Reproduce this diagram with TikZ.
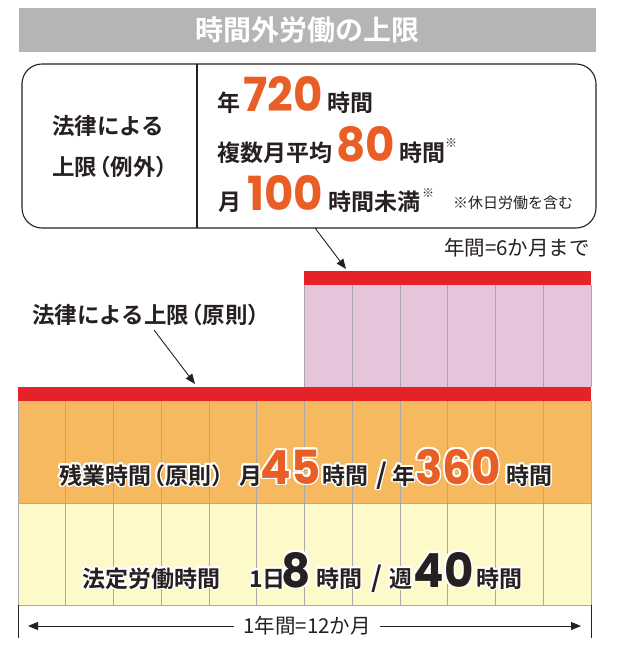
\documentclass[tikz,border=0pt]{standalone}
\usepackage{fontspec}
\setmainfont{Noto Sans CJK JP}[BoldFont={Noto Sans CJK JP Bold}]
\newfontfamily\numfont{Poppins}[FakeStretch=0.96]
\usepackage{contour}
\contourlength{1.6pt}
\usetikzlibrary{arrows.meta}
\definecolor{titlegray}{RGB}{181,181,181}
\definecolor{ink}{RGB}{38,32,32}
\definecolor{numorange}{RGB}{233,94,37}
\definecolor{barred}{RGB}{229,33,41}
\definecolor{pinkfill}{RGB}{229,196,220}
\definecolor{orangefill}{RGB}{247,185,95}
\definecolor{yellowfill}{RGB}{254,249,200}
\definecolor{gridgray}{RGB}{170,168,168}
\newcommand\lp{\makebox[0.6em][r]{（}}
\newcommand\rp{\makebox[0.6em][l]{）}}
\newcommand\jpS[1]{{\fontsize{23}{23}\selectfont\bfseries #1}}
\newcommand\jpL[1]{{\fontsize{22.5}{22.5}\selectfont\bfseries #1}}
\newcommand\numtxt[1]{{\numfont\bfseries\fontsize{47}{47}\selectfont #1}}
\newcommand\kome{{\fontsize{12}{12}\selectfont ※}}
\newcommand\halo[2]{\textcolor{#1}{\contour{white}{#2}}}
\tikzset{
  conn/.style={draw=ink, line width=0.9pt, -{Triangle[length=10pt,width=8pt]}},
  txt/.style={inner sep=0pt, text=ink},
  piece/.style={inner sep=0pt, text=ink, anchor=base west},
  numc/.style={inner sep=0pt, anchor=base},
  grid line/.style={draw=gridgray, line width=0.9pt},
}
\begin{document}
\begin{tikzpicture}[x=1pt, y=-1pt]
\useasboundingbox (0,0) rectangle (620,652);
% title
\node[fill=titlegray, minimum width=577pt, minimum height=44pt, inner sep=0pt, text=white] (title) at (307.5,30) {\fontsize{28}{28}\selectfont\bfseries 時間外労働の上限};
% exception box
\node[draw=ink, rounded corners=20pt, line width=1.1pt, minimum width=574pt, minimum height=164pt, inner sep=0pt] (box) at (309,146) {};
\draw[ink, line width=1.1pt] (197,64) -- (197,228);
\node[txt, anchor=west] (l1) at (52,126) {\jpL{法律による}};
\node[txt, anchor=west] (l2) at (52,167) {\jpL{上限\lp 例外\rp}};
% line 1
\node[piece] (r1a) at (217,112) {\jpS{年}};
\node[numc, text=numorange] (r1b) at (283,112) {\numtxt{720}};
\node[piece] (r1c) at (327,112) {\jpS{時間}};
% line 2
\node[piece] (r2a) at (217,162) {\jpS{複数月平均}};
\node[numc, text=numorange] (r2b) at (366,162) {\numtxt{80}};
\node[piece] (r2c) at (399,162) {\jpS{時間}};
\node[piece] (r2d) at (445,148) {\kome};
% line 3
\node[piece] (r3a) at (218,211) {\jpS{月}};
\node[numc, text=numorange] (r3b) at (285,211) {\numtxt{100}};
\node[piece] (r3c) at (328,211) {\jpS{時間未満}};
\node[piece] (r3d) at (422,197) {\kome};
\node[piece] (note) at (453,208) {\fontsize{15}{15}\selectfont ※休日労働を含む};
% bars
\fill[barred] (304,271) rectangle (591,285);
\fill[pinkfill] (304,285) rectangle (591,387);
\fill[barred] (18,387) rectangle (591,401);
\fill[orangefill] (18,401) rectangle (591,503);
\fill[yellowfill] (18,503) rectangle (591,605);
\foreach \k in {0,...,12} \draw[grid line] ({18+\k*47.75},401) -- ({18+\k*47.75},605);
\foreach \k in {6,...,12} \draw[grid line] ({18+\k*47.75},285) -- ({18+\k*47.75},387);
\draw[grid line] (18,503) -- (591,503);
\draw[grid line] (18,605) -- (591,605);
% labels and arrows
\node[txt, anchor=base east] (six) at (590,255) {\fontsize{20.5}{20.5}\selectfont 年間=6か月まで};
\coordinate (a1s) at (315,228);
\coordinate (a1e) at (346,269);
\draw[conn] (a1s) -- (a1e);
\node[txt, anchor=west] (gensoku) at (32,315) {\jpL{法律による上限\lp 原則\rp}};
\coordinate (a2s) at (154,330);
\coordinate (a2e) at (195,384);
\draw[conn] (a2s) -- (a2e);
% overtime row
\node[piece] (z1) at (59,484) {\halo{ink}{\jpS{残業時間\lp 原則\rp}}};
\node[piece] (z2) at (239,484) {\halo{ink}{\jpS{月}}};
\node[numc] (z3) at (290.5,484) {\halo{numorange}{\numtxt{45}}};
\node[piece] (z4) at (322,484) {\halo{ink}{\jpS{時間}}};
\node[piece] (z5) at (376,484) {\halo{ink}{\fontsize{28}{28}\selectfont\bfseries /}};
\node[piece] (z6) at (392,484) {\halo{ink}{\jpS{年}}};
\node[numc] (z7) at (458,484) {\halo{numorange}{\numtxt{360}}};
\node[piece] (z8) at (506,484) {\halo{ink}{\jpS{時間}}};
% legal hours row
\node[piece] (h1) at (82,587) {\halo{ink}{\jpS{法定労働時間}}};
\node[piece] (h2) at (249,587) {\halo{ink}{\jpS{1日}}};
\node[numc] (h3) at (296.5,587) {\halo{ink}{\numtxt{8}}};
\node[piece] (h4) at (316,587) {\halo{ink}{\jpS{時間}}};
\node[piece] (h5) at (371,587) {\halo{ink}{\fontsize{28}{28}\selectfont\bfseries /}};
\node[piece] (h6) at (389,587) {\halo{ink}{\jpS{週}}};
\node[numc] (h7) at (443.5,587) {\halo{ink}{\numtxt{40}}};
\node[piece] (h8) at (476,587) {\halo{ink}{\jpS{時間}}};
% dimension
\draw[ink, line width=0.9pt] (18,605) -- (18,638);
\draw[ink, line width=0.9pt] (591,605) -- (591,638);
\node[txt, inner xsep=9pt] (dimtxt) at (307,626) {\fontsize{20.5}{20.5}\selectfont 1年間=12か月};
\coordinate (dl) at (28,626);
\coordinate (dr) at (581,626);
\draw[conn] (dimtxt.west) -- (dl);
\draw[conn] (dimtxt.east) -- (dr);
\end{tikzpicture}
\end{document}
